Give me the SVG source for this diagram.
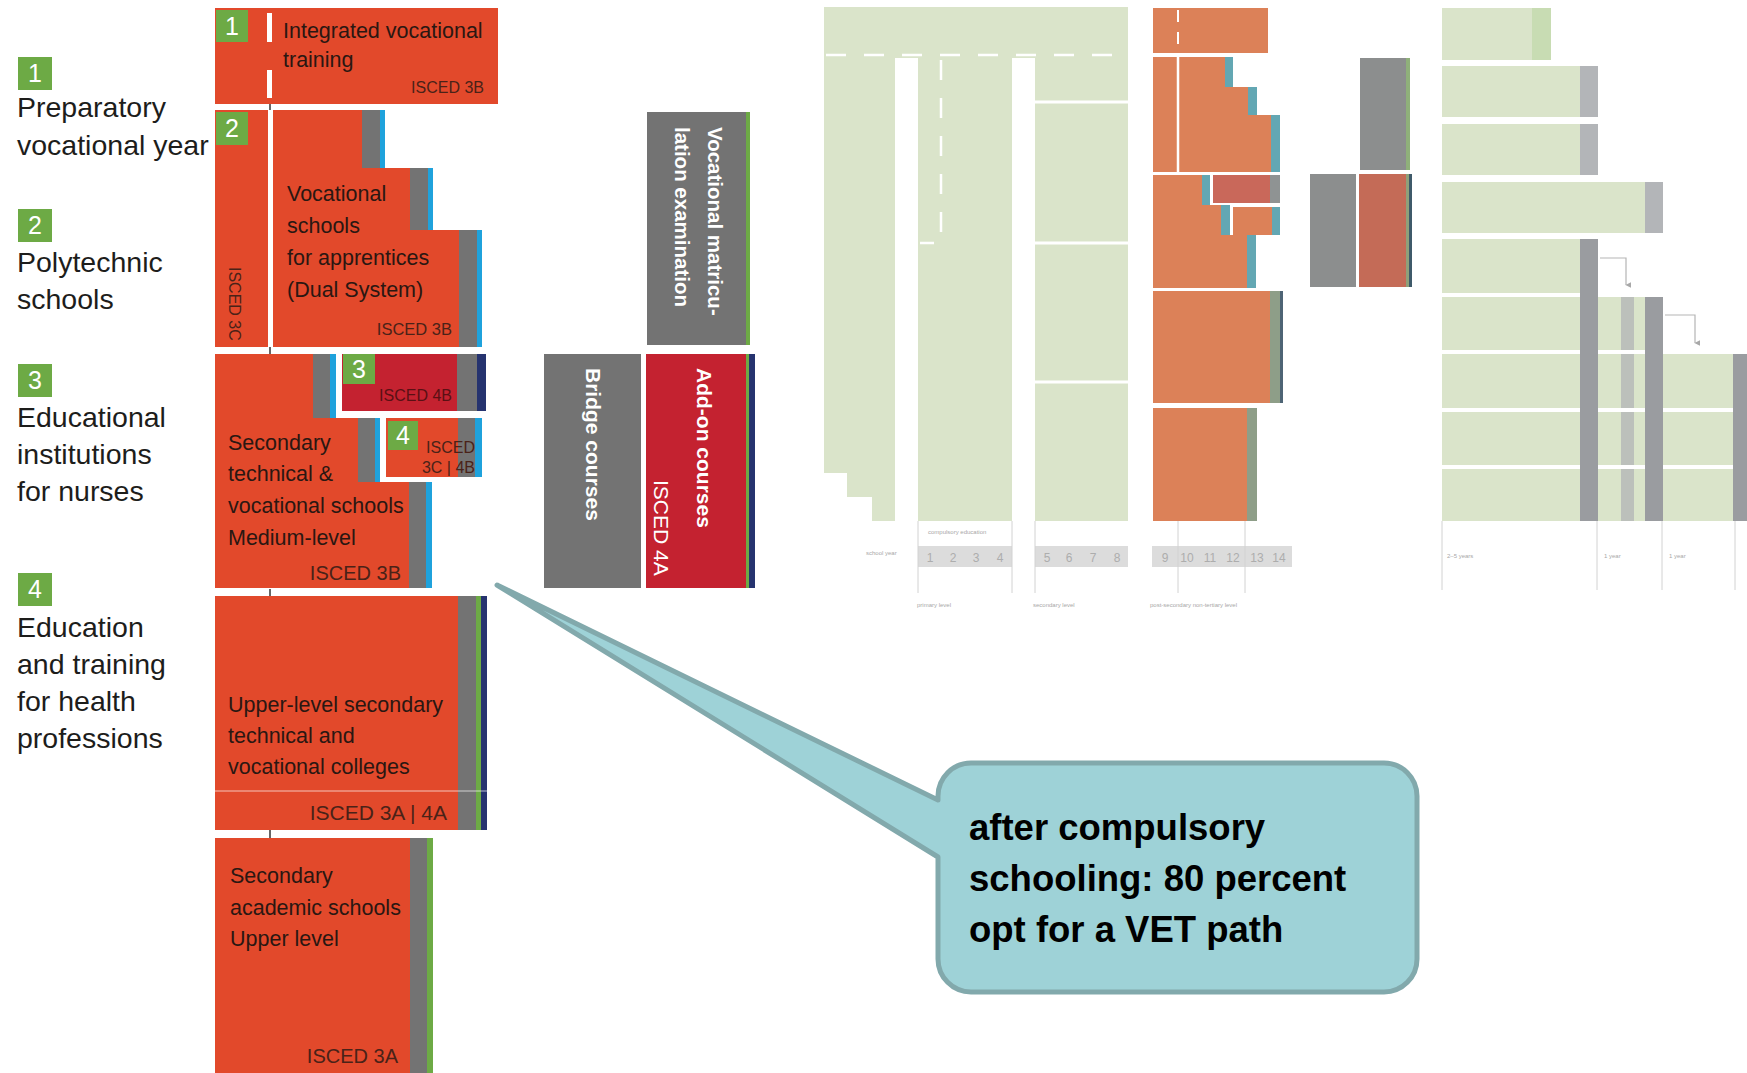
<svg xmlns="http://www.w3.org/2000/svg" width="1747" height="1073" viewBox="0 0 1747 1073">
  <style>
    text { font-family: "Liberation Sans", Arial, sans-serif; }
    .lbl { font-size: 28.5px; fill: #1d1d1b; }
    .bt { font-size: 21.5px; fill: #2a1712; }
    .isc { fill: #4a2218; text-anchor: end; }
    .num { font-size: 25px; fill: #ffffff; text-anchor: middle; }
    .vt { font-size: 20.5px; font-weight: bold; fill: #ffffff; }
    .or { fill: #E2492B; }
    .dr { fill: #C42230; }
    .gy { fill: #737373; }
    .bl { fill: #1FA2DC; }
    .nv { fill: #26336F; }
    .gn { fill: #6DAA45; }
    .lg { fill: #DAE4CA; }
    .lo { fill: #DC8158; }
    .lt { fill: #63A7B3; }
    .lgy { fill: #B3B5B8; }
    .dgy { fill: #9A9CA0; }
    .bar { fill: #DCDCDC; }
    .bn { font-size: 12px; fill: #ADADAD; text-anchor: middle; }
    .tiny { font-size: 6px; fill: #A8A8A8; }
    .thin { stroke: #D2D2D2; stroke-width: 1; fill: none; }
    .tick { stroke: #333333; stroke-width: 1.5; }
    .wdash { stroke: #ffffff; stroke-width: 2.5; stroke-dasharray: 20 18; fill: none; }
    .co { font-size: 36.5px; font-weight: bold; fill: #000000; }
  </style>
  <defs>
    <marker id="arr" viewBox="0 0 10 10" refX="5" refY="9" markerWidth="6" markerHeight="6" orient="auto-start-reverse" markerUnits="userSpaceOnUse">
      <path d="M0,0 L10,0 L5,10 Z" fill="#A8A8A8"/>
    </marker>
  </defs>

  <rect width="1747" height="1073" fill="#ffffff"/>

  <!-- legend on the left -->
  <g id="legend-1">
    <rect class="gn" x="18" y="57" width="34" height="33"/>
    <text class="num" x="35" y="82">1</text>
    <text class="lbl" x="17" y="117">Preparatory</text>
    <text class="lbl" x="17" y="155">vocational year</text>
  </g>
  <g id="legend-2">
    <rect class="gn" x="18" y="209" width="34" height="33"/>
    <text class="num" x="35" y="234">2</text>
    <text class="lbl" x="17" y="272">Polytechnic</text>
    <text class="lbl" x="17" y="309">schools</text>
  </g>
  <g id="legend-3">
    <rect class="gn" x="18" y="364" width="34" height="33"/>
    <text class="num" x="35" y="389">3</text>
    <text class="lbl" x="17" y="427">Educational</text>
    <text class="lbl" x="17" y="464">institutions</text>
    <text class="lbl" x="17" y="501">for nurses</text>
  </g>
  <g id="legend-4">
    <rect class="gn" x="18" y="573" width="34" height="33"/>
    <text class="num" x="35" y="598">4</text>
    <text class="lbl" x="17" y="637">Education</text>
    <text class="lbl" x="17" y="674">and training</text>
    <text class="lbl" x="17" y="711">for health</text>
    <text class="lbl" x="17" y="748">professions</text>
  </g>

  <!-- integrated vocational training -->
  <g id="integrated-vocational-training">
    <rect class="or" x="215" y="8" width="283" height="96"/>
    <rect class="gn" x="216" y="10" width="32" height="32"/>
    <text class="num" x="232" y="35">1</text>
    <rect fill="#ffffff" x="267" y="13" width="5" height="29"/>
    <rect fill="#ffffff" x="267" y="70" width="5" height="28"/>
    <text class="bt" x="283" y="38">Integrated vocational</text>
    <text class="bt" x="283" y="67">training</text>
    <text class="isc" x="484" y="93" font-size="16">ISCED 3B</text>
  </g>

  <!-- polytechnic column + apprenticeship schools -->
  <g id="vocational-schools-dual-system">
    <rect class="or" x="215" y="110" width="53" height="237"/>
    <rect class="gn" x="216" y="112" width="32" height="33"/>
    <text class="num" x="232" y="137">2</text>
    <text class="isc" transform="translate(229,267) rotate(90)" font-size="16" style="text-anchor:start">ISCED 3C</text>
    <polygon class="or" points="273,110 362,110 362,168 410,168 410,230 459,230 459,347 273,347"/>
    <rect class="gy" x="362" y="110" width="18" height="58"/>
    <rect class="bl" x="380" y="110" width="5" height="58"/>
    <rect class="gy" x="410" y="168" width="18" height="62"/>
    <rect class="bl" x="428" y="168" width="5" height="62"/>
    <rect class="gy" x="459" y="230" width="18" height="117"/>
    <rect class="bl" x="477" y="230" width="5" height="117"/>
    <text class="bt" x="287" y="201">Vocational</text>
    <text class="bt" x="287" y="233">schools</text>
    <text class="bt" x="287" y="265">for apprentices</text>
    <text class="bt" x="287" y="297">(Dual System)</text>
    <text class="isc" x="452" y="335" font-size="16.5">ISCED 3B</text>
  </g>

  <!-- medium-level technical and vocational schools -->
  <g id="secondary-technical-medium-level">
    <polygon class="or" points="215,354 313,354 313,418 358,418 358,482 409,482 409,588 215,588"/>
    <rect class="gy" x="313" y="354" width="17" height="64"/>
    <rect class="bl" x="330" y="354" width="6" height="64"/>
    <rect class="gy" x="358" y="418" width="17" height="64"/>
    <rect class="bl" x="375" y="418" width="5" height="64"/>
    <rect class="gy" x="409" y="482" width="17" height="106"/>
    <rect class="bl" x="426" y="482" width="6" height="106"/>
    <text class="bt" x="228" y="450">Secondary</text>
    <text class="bt" x="228" y="481">technical &amp;</text>
    <text class="bt" x="228" y="513">vocational schools</text>
    <text class="bt" x="228" y="545">Medium-level</text>
    <text class="isc" x="401" y="580" font-size="20">ISCED 3B</text>
  </g>

  <g id="nursing-institutions">
    <rect class="dr" x="342" y="354" width="115" height="57"/>
    <rect class="gy" x="457" y="354" width="20" height="57"/>
    <rect class="nv" x="477" y="354" width="9" height="57"/>
    <rect class="gn" x="343" y="354" width="32" height="30"/>
    <text class="num" x="359" y="378">3</text>
    <text class="isc" x="452" y="401" font-size="16" style="fill:#5a1014">ISCED 4B</text>
  </g>

  <g id="health-professions">
    <rect class="or" x="386" y="418" width="72" height="59"/>
    <rect class="gy" x="458" y="418" width="17" height="59"/>
    <rect class="bl" x="475" y="418" width="7" height="59"/>
    <rect class="gn" x="388" y="421" width="30" height="29"/>
    <text class="num" x="403" y="444">4</text>
    <text class="isc" x="475" y="453" font-size="16">ISCED</text>
    <text class="isc" x="475" y="473" font-size="16">3C | 4B</text>
  </g>

  <g id="upper-level-colleges">
    <rect class="or" x="215" y="596" width="243" height="234"/>
    <rect class="gy" x="458" y="596" width="18" height="234"/>
    <rect class="gn" x="476" y="596" width="5" height="234"/>
    <rect class="nv" x="481" y="596" width="6" height="234"/>
    <line x1="215" y1="791" x2="487" y2="791" stroke="#ffffff" stroke-opacity="0.45" stroke-width="1.5"/>
    <text class="bt" x="228" y="712">Upper-level secondary</text>
    <text class="bt" x="228" y="743">technical and</text>
    <text class="bt" x="228" y="774">vocational colleges</text>
    <text class="isc" x="447" y="820" font-size="21">ISCED 3A | 4A</text>
  </g>

  <g id="academic-schools-upper-level">
    <rect class="or" x="215" y="838" width="195" height="235"/>
    <rect class="gy" x="410" y="838" width="17" height="235"/>
    <rect class="gn" x="427" y="838" width="6" height="235"/>
    <text class="bt" x="230" y="883">Secondary</text>
    <text class="bt" x="230" y="915">academic schools</text>
    <text class="bt" x="230" y="946">Upper level</text>
    <text class="isc" x="398" y="1063" font-size="20">ISCED 3A</text>
  </g>

  <g id="vocational-matriculation">
    <rect class="gy" x="647" y="112" width="99" height="233"/>
    <rect class="gn" x="746" y="112" width="4" height="233"/>
    <text class="vt" transform="translate(708,127) rotate(90)">Vocational matricu-</text>
    <text class="vt" transform="translate(675,127) rotate(90)">lation examination</text>
  </g>

  <g id="bridge-courses">
    <rect class="gy" x="544" y="354" width="97" height="234"/>
    <text class="vt" transform="translate(586,368) rotate(90)" style="font-size:21px">Bridge courses</text>
  </g>

  <g id="add-on-courses">
    <rect class="dr" x="646" y="354" width="100" height="234"/>
    <rect class="gn" x="746" y="354" width="3" height="234"/>
    <rect class="nv" x="749" y="354" width="6" height="234"/>
    <text class="vt" transform="translate(697,368) rotate(90)" style="font-size:21px">Add-on courses</text>
    <text transform="translate(654,480) rotate(90)" font-size="21" fill="#ffffff">ISCED 4A</text>
  </g>

  <!-- faded overview chart on the right -->
  <g id="overview-chart">
    <!-- pre-school and compulsory columns -->
    <rect class="lg" x="824" y="7" width="304" height="51"/>
    <polygon class="lg" points="824,7 895,7 895,521 872,521 872,497 847,497 847,473 824,473"/>
    <rect class="lg" x="918" y="7" width="94" height="514"/>
    <rect class="lg" x="1035" y="7" width="93" height="514"/>
    <line class="wdash" x1="826" y1="55" x2="1128" y2="55"/>
    <path class="wdash" d="M941,60 V243 H920" stroke-dasharray="18 16"/>
    <line x1="1035" y1="102" x2="1128" y2="102" stroke="#ffffff" stroke-width="3"/>
    <line x1="1035" y1="243" x2="1128" y2="243" stroke="#ffffff" stroke-width="3"/>
    <line x1="1035" y1="382" x2="1128" y2="382" stroke="#ffffff" stroke-width="3"/>

    <!-- upper secondary paths -->
    <rect class="lo" x="1153" y="8" width="115" height="45"/>
    <line x1="1178" y1="10" x2="1178" y2="53" stroke="#ffffff" stroke-width="2" stroke-dasharray="12 10"/>
    <polygon class="lo" points="1153,57 1225,57 1225,87 1248,87 1248,115 1271,115 1271,172 1153,172"/>
    <rect class="lt" x="1225" y="57" width="8" height="30"/>
    <rect class="lt" x="1248" y="87" width="9" height="28"/>
    <rect class="lt" x="1271" y="115" width="9" height="57"/>
    <line x1="1178" y1="57" x2="1178" y2="172" stroke="#ffffff" stroke-width="2.5"/>
    <polygon class="lo" points="1153,175 1202,175 1202,205 1221,205 1221,235 1247,235 1247,288 1153,288"/>
    <rect class="lt" x="1202" y="175" width="8" height="30"/>
    <rect class="lt" x="1221" y="205" width="9" height="30"/>
    <rect class="lt" x="1247" y="235" width="9" height="53"/>
    <rect fill="#C9685A" x="1213" y="175" width="57" height="28"/>
    <rect fill="#8F9393" x="1270" y="175" width="10" height="28"/>
    <rect class="lo" x="1233" y="207" width="39" height="28"/>
    <rect class="lt" x="1272" y="207" width="8" height="28"/>
    <rect class="lo" x="1153" y="291" width="117" height="112"/>
    <rect fill="#8E9E88" x="1270" y="291" width="10" height="112"/>
    <rect fill="#4E6475" x="1280" y="291" width="3" height="112"/>
    <rect class="lo" x="1153" y="408" width="94" height="113"/>
    <rect fill="#8E9E88" x="1247" y="408" width="10" height="113"/>

    <!-- post-secondary blocks -->
    <rect fill="#8C8E8E" x="1360" y="58" width="46" height="112"/>
    <rect fill="#8FB07A" x="1406" y="58" width="4" height="112"/>
    <rect fill="#8C8E8E" x="1310" y="174" width="46" height="113"/>
    <rect fill="#C46B57" x="1359" y="174" width="47" height="113"/>
    <rect fill="#8FA07A" x="1406" y="174" width="3" height="113"/>
    <rect fill="#3F5A6A" x="1409" y="174" width="3" height="113"/>

    <!-- tertiary rows -->
    <rect class="lg" x="1442" y="8" width="90" height="52"/>
    <rect fill="#C8DCB3" x="1532" y="8" width="19" height="52"/>
    <rect class="lg" x="1442" y="66" width="138" height="51"/>
    <rect class="lgy" x="1580" y="66" width="18" height="51"/>
    <rect class="lg" x="1442" y="124" width="138" height="51"/>
    <rect class="lgy" x="1580" y="124" width="18" height="51"/>
    <rect class="lg" x="1442" y="182" width="203" height="51"/>
    <rect class="lgy" x="1645" y="182" width="18" height="51"/>
    <rect class="lg" x="1442" y="239" width="138" height="54"/>
    <rect class="lg" x="1442" y="297" width="305" height="53"/>
    <rect class="lg" x="1442" y="354" width="305" height="54"/>
    <rect class="lg" x="1442" y="412" width="305" height="53"/>
    <rect class="lg" x="1442" y="469" width="305" height="52"/>
    <rect fill="#ffffff" x="1663" y="297" width="84" height="54"/>
    <rect class="dgy" x="1580" y="239" width="18" height="282"/>
    <rect fill="#BCC0BB" x="1621" y="297" width="13" height="53"/>
    <rect fill="#BCC0BB" x="1621" y="354" width="13" height="54"/>
    <rect fill="#BCC0BB" x="1621" y="412" width="13" height="53"/>
    <rect fill="#BCC0BB" x="1621" y="469" width="13" height="52"/>
    <rect class="dgy" x="1645" y="297" width="18" height="224"/>
    <rect class="dgy" x="1733" y="354" width="14" height="167"/>

    <!-- school-year scale -->
    <text class="tiny" x="928" y="534">compulsory education</text>
    <text class="tiny" x="866" y="555">school year</text>
    <rect class="bar" x="918" y="546" width="94" height="21"/>
    <rect class="bar" x="1035" y="546" width="93" height="21"/>
    <rect class="bar" x="1152" y="546" width="140" height="21"/>
    <text class="bn" x="930" y="562">1</text>
    <text class="bn" x="953" y="562">2</text>
    <text class="bn" x="976" y="562">3</text>
    <text class="bn" x="1000" y="562">4</text>
    <text class="bn" x="1047" y="562">5</text>
    <text class="bn" x="1069" y="562">6</text>
    <text class="bn" x="1093" y="562">7</text>
    <text class="bn" x="1117" y="562">8</text>
    <text class="bn" x="1165" y="562">9</text>
    <text class="bn" x="1187" y="562">10</text>
    <text class="bn" x="1210" y="562">11</text>
    <text class="bn" x="1233" y="562">12</text>
    <text class="bn" x="1257" y="562">13</text>
    <text class="bn" x="1279" y="562">14</text>
    <text class="tiny" x="917" y="607">primary level</text>
    <text class="tiny" x="1033" y="607">secondary level</text>
    <text class="tiny" x="1150" y="607">post-secondary non-tertiary level</text>
    <text class="tiny" x="1447" y="558">2–5 years</text>
    <text class="tiny" x="1604" y="558">1 year</text>
    <text class="tiny" x="1669" y="558">1 year</text>
  </g>

  <!-- connectors: guide lines, ticks and small arrows -->
  <g id="connectors">
    <line class="tick" x1="270" y1="104" x2="270" y2="110"/>
    <line class="tick" x1="270" y1="347" x2="270" y2="354"/>
    <line class="tick" x1="270" y1="589" x2="270" y2="596"/>
    <line class="tick" x1="270" y1="830" x2="270" y2="838"/>
    <line class="thin" x1="918" y1="521" x2="918" y2="593"/>
    <line class="thin" x1="1012" y1="521" x2="1012" y2="593"/>
    <line class="thin" x1="1035" y1="521" x2="1035" y2="593"/>
    <line class="thin" x1="1178" y1="521" x2="1178" y2="593" stroke="#C0C0C0"/>
    <line class="thin" x1="1245" y1="521" x2="1245" y2="593"/>
    <line class="thin" x1="1442" y1="521" x2="1442" y2="590"/>
    <line class="thin" x1="1597" y1="521" x2="1597" y2="590"/>
    <line class="thin" x1="1662" y1="521" x2="1662" y2="590"/>
    <line class="thin" x1="1735" y1="521" x2="1735" y2="590"/>
    <path d="M1600,258 H1626 V285" fill="none" stroke="#B5B5B5" stroke-width="1.2" marker-end="url(#arr)"/>
    <path d="M1665,315 H1695 V343" fill="none" stroke="#B5B5B5" stroke-width="1.2" marker-end="url(#arr)"/>
  </g>

  <!-- callout -->
  <g id="callout">
    <path d="M938,800 L497,585 L938,857 V959 A33,33 0 0 0 971,992 H1384 A33,33 0 0 0 1417,959 V796 A33,33 0 0 0 1384,763 H971 A33,33 0 0 0 938,796 Z" fill="#9ED2D7" stroke="#82A9AC" stroke-width="5" stroke-linejoin="round"/>
    <text class="co" x="969" y="840">after compulsory</text>
    <text class="co" x="969" y="891">schooling: 80 percent</text>
    <text class="co" x="969" y="942">opt for a VET path</text>
  </g>
</svg>
